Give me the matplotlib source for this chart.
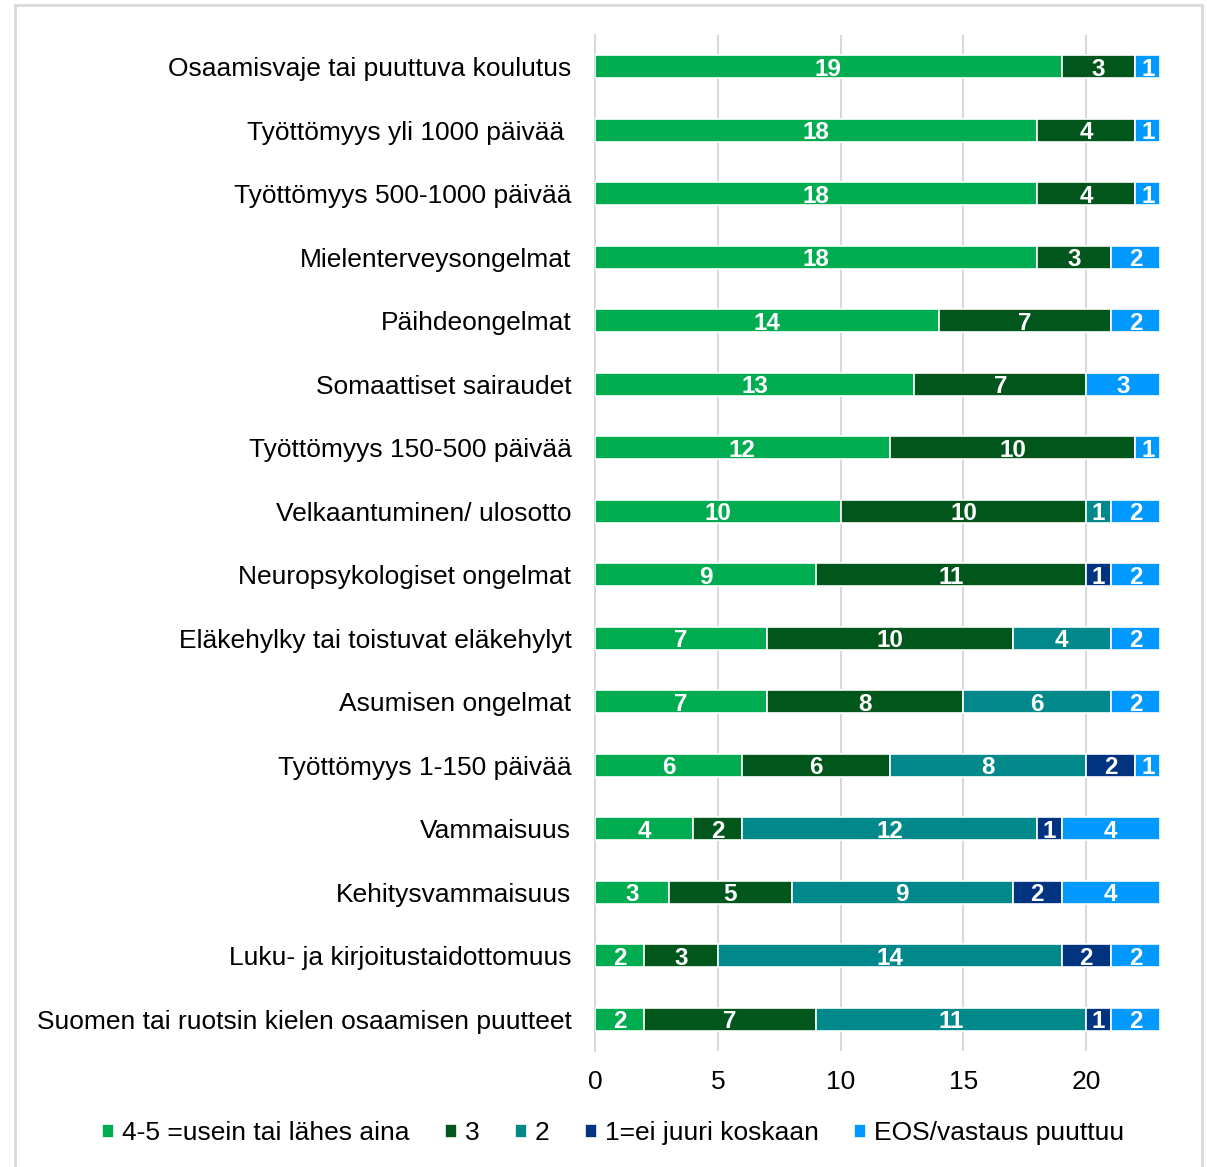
import matplotlib
matplotlib.use("Agg")
import matplotlib.pyplot as plt
import matplotlib.patches as patches
import numpy as np

plt.rcParams["font.family"] = ["Liberation Sans", "DejaVu Sans"]

# kategoriat ylhäältä alas
categories = [
    "Osaamisvaje tai puuttuva koulutus",
    "Työttömyys yli 1000 päivää ",
    "Työttömyys 500-1000 päivää",
    "Mielenterveysongelmat",
    "Päihdeongelmat",
    "Somaattiset sairaudet",
    "Työttömyys 150-500 päivää",
    "Velkaantuminen/ ulosotto",
    "Neuropsykologiset ongelmat",
    "Eläkehylky tai toistuvat eläkehylyt",
    "Asumisen ongelmat",
    "Työttömyys 1-150 päivää",
    "Vammaisuus",
    "Kehitysvammaisuus",
    "Luku- ja kirjoitustaidottomuus",
    "Suomen tai ruotsin kielen osaamisen puutteet",
]

series_names = ["4-5 =usein tai lähes aina", "3", "2", "1=ei juuri koskaan", "EOS/vastaus puuttuu"]
often = [19, 18, 18, 18, 14, 13, 12, 10, 9, 7, 7, 6, 4, 3, 2, 2]
three = [3, 4, 4, 3, 7, 7, 10, 10, 11, 10, 8, 6, 2, 5, 3, 7]
two = [0, 0, 0, 0, 0, 0, 0, 1, 0, 4, 6, 8, 12, 9, 14, 11]
never = [0, 0, 0, 0, 0, 0, 0, 0, 1, 0, 0, 2, 1, 2, 2, 1]
eos = [1, 1, 1, 2, 2, 3, 1, 2, 2, 2, 2, 1, 4, 4, 2, 2]
colors = ["#00AC50", "#00561B", "#00888A", "#003380", "#0099FF"]

fig = plt.figure(figsize=(12.07, 11.67), dpi=100)
ax = fig.add_axes([595 / 1207, 1 - 1051 / 1167, (1160 - 595) / 1207, 1016 / 1167])

# harmaa kehys kuvan ympärillä
fig.patches.append(patches.Rectangle((15 / 1207, -0.01), 1187 / 1207, 1 - 5 / 1167 + 0.01,
                                     transform=fig.transFigure, fill=False,
                                     edgecolor="#D9D9D9", linewidth=2))

y = np.arange(len(categories))
left = np.zeros(len(categories))
for name, vals, col in zip(series_names, [often, three, two, never, eos], colors):
    vals = np.array(vals)
    ax.barh(y, vals, left=left, height=0.36, color=col, edgecolor="white",
            linewidth=1.2, label=name, zorder=3)
    for yi, l, v in zip(y, left, vals):
        if v > 0:
            ax.text(l + v / 2, yi, str(v), ha="center", va="center_baseline", color="white",
                    fontsize=17.5, fontweight="bold", zorder=4)
    left += vals

ax.set_ylim(len(categories) - 0.5, -0.5)
ax.set_xlim(0, 23)
ax.set_xticks([0, 5, 10, 15, 20])
ax.set_yticks(y)
ax.set_yticklabels(categories, fontsize=19)
ax.tick_params(axis="both", length=0, labelsize=19)
ax.tick_params(axis="y", pad=17)
ax.tick_params(axis="x", pad=14)
ax.grid(axis="x", color="#D9D9D9", linewidth=1.5, zorder=0)
for s in ["top", "right", "bottom"]:
    ax.spines[s].set_visible(False)
ax.spines["left"].set_color("#D9D9D9")
ax.spines["left"].set_linewidth(1.5)

handles, labels = ax.get_legend_handles_labels()
fig.legend(handles, labels, loc="center", bbox_to_anchor=(613 / 1207, 1 - 1133 / 1167),
           ncol=5, frameon=False, fontsize=19, handlelength=0.45, handleheight=0.45,
           handletextpad=0.3, columnspacing=1.35)

fig.savefig("out.png", dpi=100)
